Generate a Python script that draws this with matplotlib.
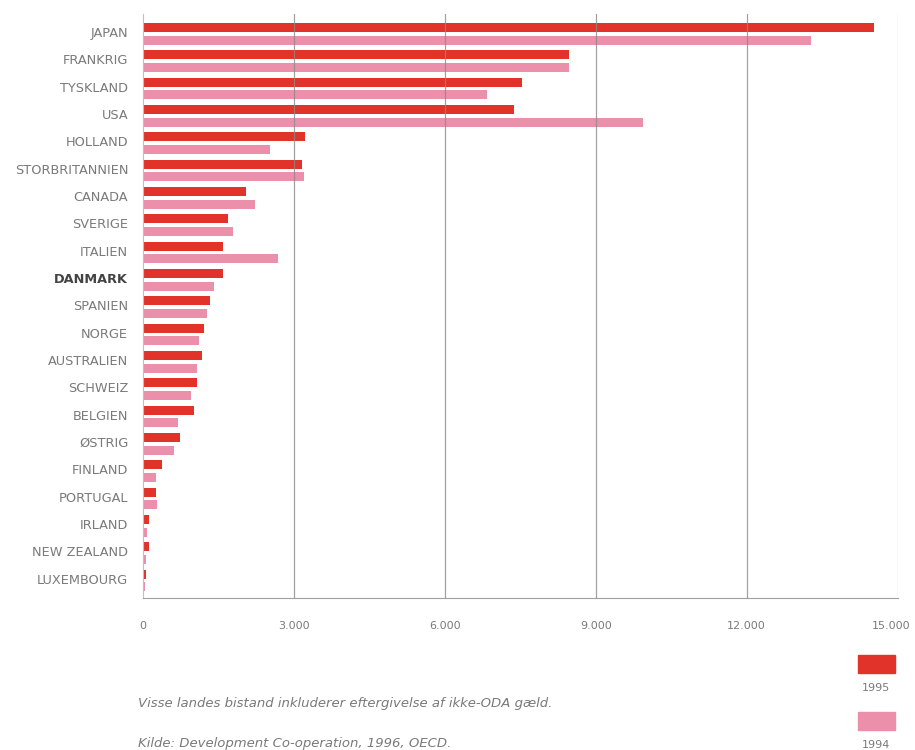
import numpy as np
import matplotlib.pyplot as plt
import matplotlib.transforms as mtransforms
from matplotlib.patches import Rectangle

# countries, top to bottom
countries = ["JAPAN", "FRANKRIG", "TYSKLAND", "USA", "HOLLAND", "STORBRITANNIEN",
             "CANADA", "SVERIGE", "ITALIEN", "DANMARK", "SPANIEN", "NORGE",
             "AUSTRALIEN", "SCHWEIZ", "BELGIEN", "ØSTRIG", "FINLAND", "PORTUGAL",
             "IRLAND", "NEW ZEALAND", "LUXEMBOURG"]
# bistand, mio. USD
aid_1995 = [14530, 8470, 7530, 7370, 3220, 3160, 2050, 1700, 1600, 1600,
            1330, 1220, 1180, 1070, 1010, 750, 380, 260, 130, 120, 60]
aid_1994 = [13280, 8480, 6840, 9940, 2520, 3200, 2230, 1800, 2680, 1410,
            1280, 1120, 1080, 960, 700, 620, 260, 280, 90, 70, 50]
years = ["1995", "1994"]
xticks = [0, 3000, 6000, 9000, 12000, 15000]
xtick_labels = ["0", "3.000", "6.000", "9.000", "12.000", "15.000"]

red = "#e2332a"
pink = "#ec8fab"
grey = "#7a7a7a"

fig = plt.figure(figsize=(9.15, 7.5), dpi=100)
ax = fig.add_axes([0.156, 0.203, 0.825, 0.778])

y = np.arange(len(countries))
h = 0.33
ax.barh(y - 0.21, aid_1995, height=h, color=red, zorder=2)
ax.barh(y + 0.25, aid_1994, height=h, color=pink, zorder=2)

ax.set_xlim(0, 15000)
ax.set_ylim(len(countries) - 0.35, -0.7)

# vertical grid lines drawn over the bars
for xv in xticks[1:-1]:
    ax.axvline(xv, color="#8a8a8a", lw=0.9, alpha=0.8, zorder=3)
ax.axvline(xticks[-1], color="#c8c8c8", lw=0.9, zorder=3)

for s in ["top", "right"]:
    ax.spines[s].set_visible(False)
ax.spines["left"].set_color("#c0c0c0")
ax.spines["bottom"].set_color("#a0a0a0")

ax.set_xticks(xticks)
ax.set_xticklabels(xtick_labels, fontsize=8, color=grey)
ax.set_yticks(y - 0.05)
ax.set_yticklabels(countries, fontsize=9.3, color=grey)
ax.tick_params(length=0)
ax.tick_params(axis="x", pad=17)
ax.tick_params(axis="y", pad=10.5)
for lbl in ax.get_yticklabels():
    if lbl.get_text() == "DANMARK":
        lbl.set_fontweight("bold")
        lbl.set_color("#444444")

# nudge the last x label so it stays inside the picture
last = ax.get_xticklabels()[-1]
last.set_transform(last.get_transform() +
                   mtransforms.ScaledTranslation(-6 / 100, 0, fig.dpi_scale_trans))

# legend boxes at bottom right
fig.patches.append(Rectangle((858 / 915, 1 - 673 / 750), 37 / 915, 18 / 750,
                             transform=fig.transFigure, color=red))
fig.patches.append(Rectangle((858 / 915, 1 - 730 / 750), 37 / 915, 18 / 750,
                             transform=fig.transFigure, color=pink))
fig.text(876 / 915, 1 - 688 / 750, years[0], ha="center", va="center",
         fontsize=8, color=grey)
fig.text(876 / 915, 1 - 745 / 750, years[1], ha="center", va="center",
         fontsize=8, color=grey)

# footnotes
fig.text(138 / 915, 1 - 704 / 750,
         "Visse landes bistand inkluderer eftergivelse af ikke-ODA gæld.",
         fontsize=9.5, style="italic", color=grey, va="center")
fig.text(138 / 915, 1 - 744 / 750,
         "Kilde: Development Co-operation, 1996, OECD.",
         fontsize=9.5, style="italic", color=grey, va="center")

fig.savefig("out.png", dpi=100, facecolor="white")
